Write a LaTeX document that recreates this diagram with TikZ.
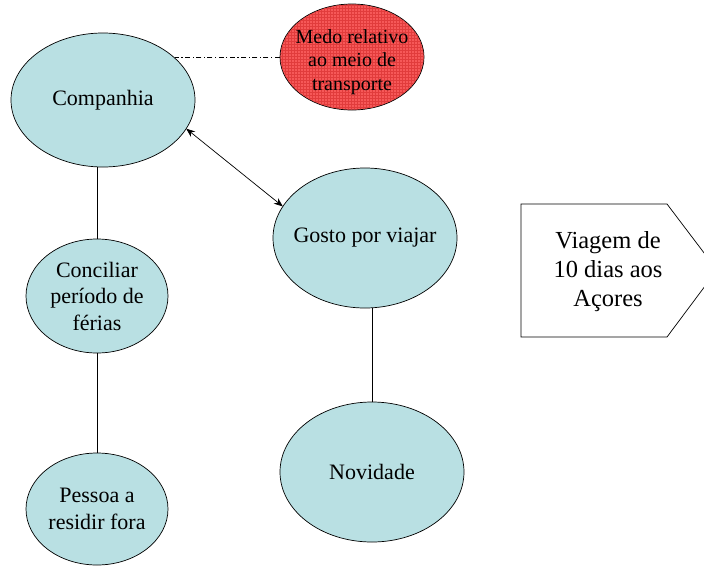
\documentclass[tikz,border=0pt]{standalone}
\usepackage{fontspec}
\setmainfont{Liberation Serif}
\usetikzlibrary{shapes.geometric,arrows.meta,patterns}

\definecolor{bubblefill}{RGB}{185,224,227}
\definecolor{fearfill}{RGB}{246,88,88}
\definecolor{feargrid}{RGB}{225,60,60}

\begin{document}
\begin{tikzpicture}[x=1pt,y=-1pt,line width=0.7pt,
    bubble/.style={ellipse,draw,fill=bubblefill,inner sep=0pt,outer sep=0pt},
    words/.style={align=center,font=\fontsize{22}{26.5}\selectfont}]
    \useasboundingbox (0,0) rectangle (704,566);
    \clip (0,0) rectangle (704,566);
    \path (103,100) node [bubble,minimum width=184,minimum height=134,
        label={[words]center:Companhia}] (companhia) {};
    \path (352, 57) node [ellipse,draw,fill=fearfill,inner sep=0pt,
        minimum width=144,minimum height=106] (medo) {};
    \path (352, 57) node [pattern=grid,pattern color=feargrid,ellipse,inner sep=0pt,
        minimum width=143,minimum height=105] (medogrid) {};
    \path (352, 62) node [align=center,font=\fontsize{20}{23.5}\selectfont] (medotext) {Medo relativo\\ao meio de\\transporte};
    \path (365,238) node [bubble,minimum width=184,minimum height=140,
        label={[words]center:Gosto por viajar}] (gosto) {};
    \path ( 97,296) node [bubble,minimum width=142,minimum height=114,
        label={[words]center:Conciliar\\período de\\férias}] (conciliar) {};
    \path ( 97,509) node [bubble,minimum width=142,minimum height=112,
        label={[words]center:Pessoa a\\residir fora}] (pessoa) {};
    \path (372,472) node [bubble,minimum width=184,minimum height=140,
        label={[words]center:Novidade}] (novidade) {};
    \draw (521,204) -- (667,204) -- (717,270) -- (667,337) -- (521,337) -- cycle;
    \path (608,272) node [align=center,font=\fontsize{24.5}{29}\selectfont] (viagem) {Viagem de\\10 dias aos\\Açores};
    \draw [dash pattern=on 5pt off 2.5pt on 1.2pt off 2.5pt] (medo.west) -- (medo.west -| companhia.30);
    \draw [{Stealth[length=9pt,width=7pt]}-{Stealth[length=9pt,width=7pt]}] (companhia.-19) -- (gosto.159);
    \draw (conciliar.north) -- (conciliar.north |- companhia.south);
    \draw (pessoa) -- (conciliar);
    \draw (novidade.north) -- (novidade.north |- gosto.south);
\end{tikzpicture}
\end{document}
